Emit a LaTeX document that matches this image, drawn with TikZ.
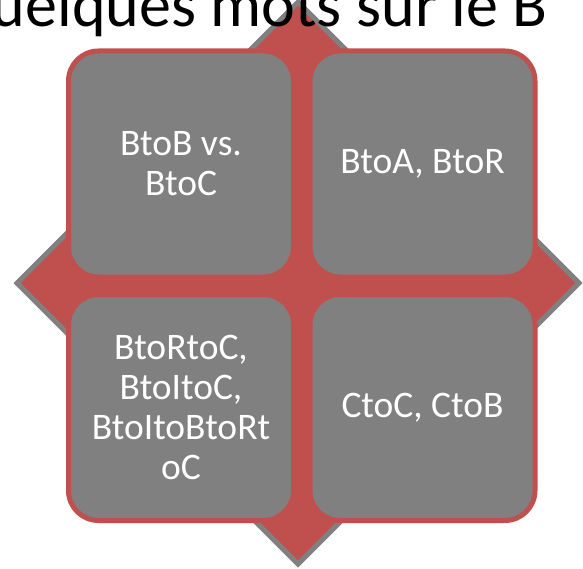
\documentclass[tikz,border=0pt]{standalone}
\usepackage{fontspec}
\setmainfont{Carlito}
\usetikzlibrary{shapes.geometric}
\definecolor{dodo}{HTML}{C0504D}
\definecolor{xam}{HTML}{808080}
\begin{document}
\begin{tikzpicture}[x=1pt,y=-1pt,declare function={trai=181;phai=422.5;tren=164;duoi=407.5;}]
				\tikzset{ovuong/.style={draw=dodo,line width=5pt,fill=xam,rounded corners=30pt,minimum width=225pt,minimum height=226pt,inner sep=0pt,align=center,text=white,font=\fontsize{37.5}{40}\selectfont},
					hinhthoi/.style={diamond,draw=xam,line width=5pt,fill=dodo,minimum width=564pt,minimum height=564pt,inner sep=0pt}}
				
				% Khung hình
				\clip (0,0) rectangle (583,569);
				
				% Hình thoi nền
				\path (298,283) node[hinhthoi] (nen){};
				
				% Bốn ô
				\path (trai,tren) node[ovuong] (TT){BtoB vs.\\BtoC}
				(phai,tren) node[ovuong] (TP){BtoA, BtoR}
				(trai,duoi) node[ovuong] (DT){BtoRtoC,\\BtoItoC,\\BtoItoBtoRt\\oC}
				(phai,duoi) node[ovuong] (DP){CtoC, CtoB};
				
				% Tiêu đề (bị cắt)
				\path (548,27) node[anchor=base east,inner sep=0pt,font=\fontsize{64}{72}\selectfont] (tieude){Quelques mots sur le B};
			\end{tikzpicture}
\end{document}
